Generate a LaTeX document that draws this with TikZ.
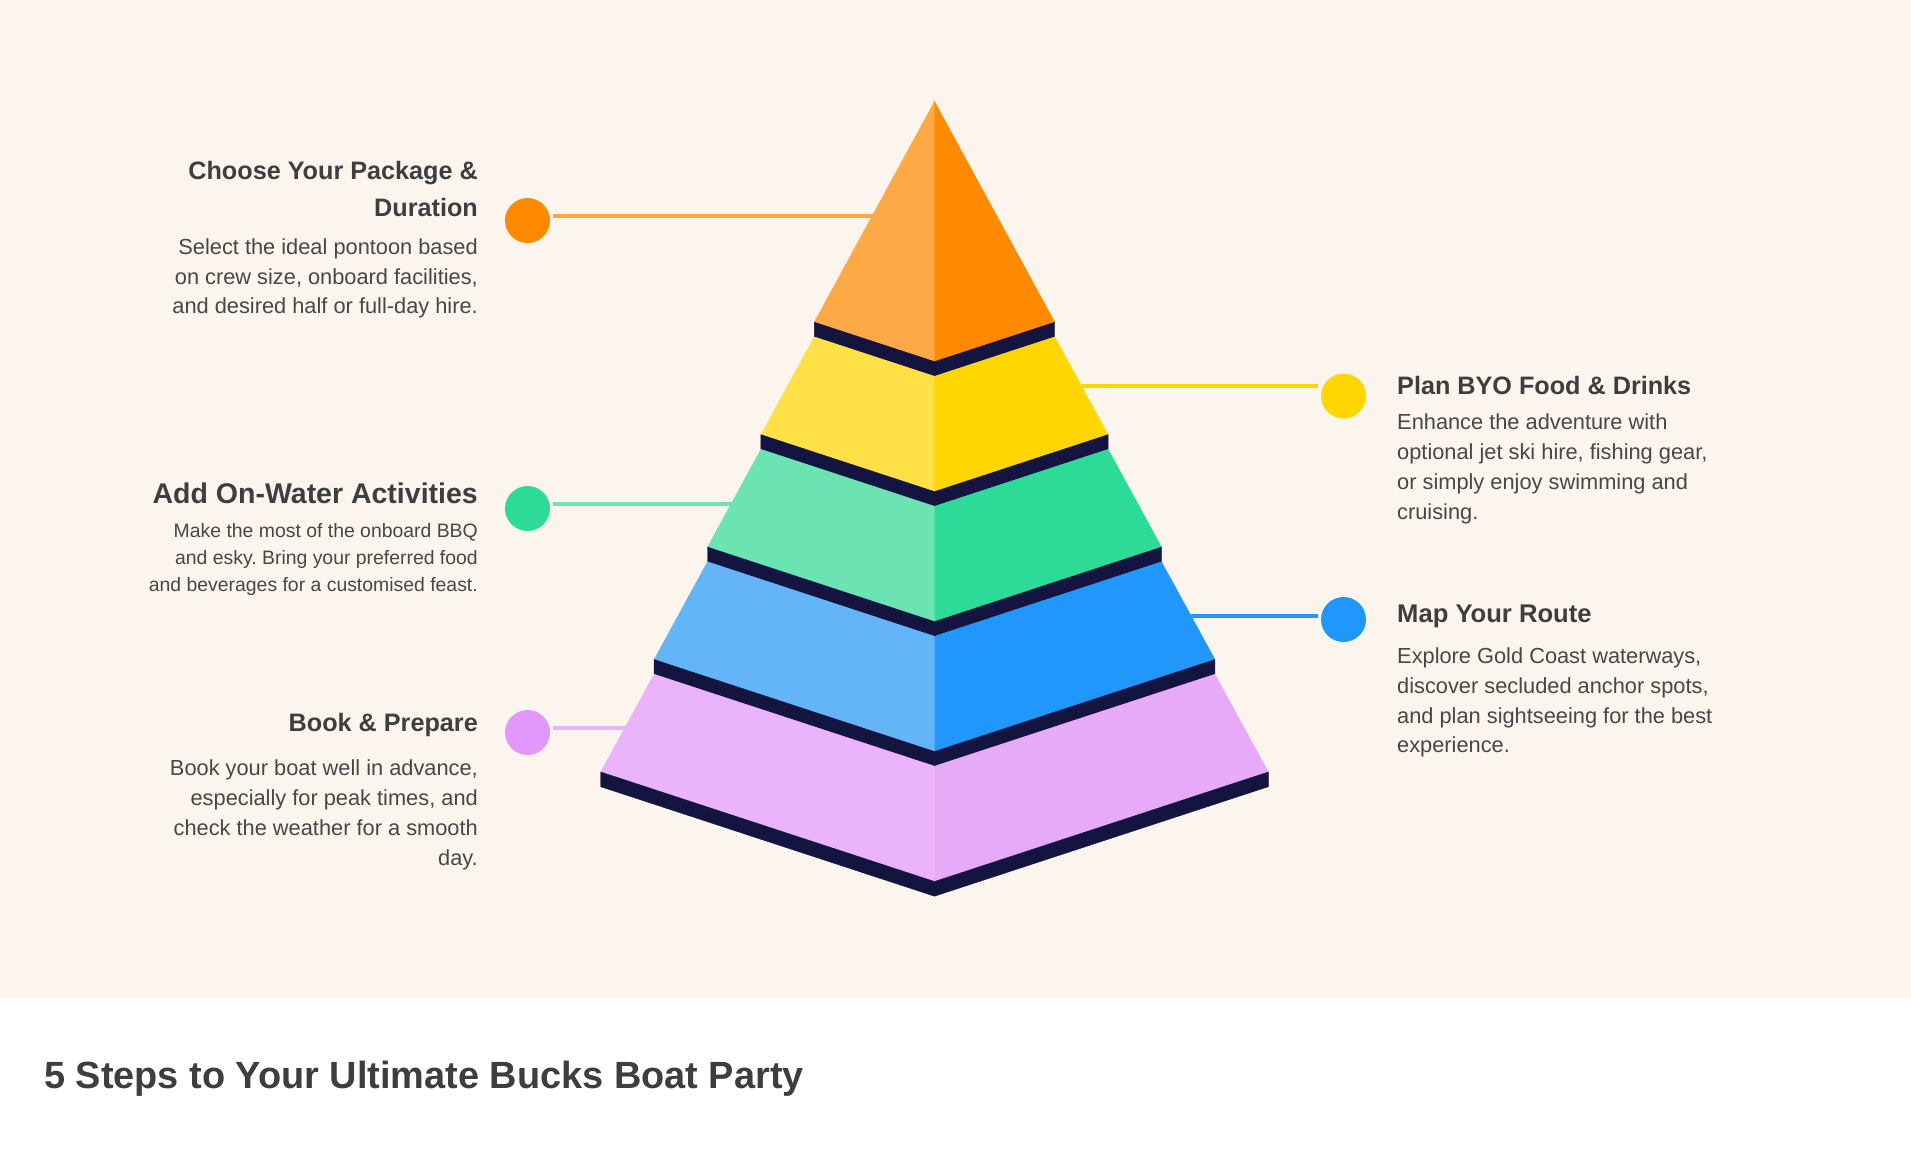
\documentclass[tikz,border=0pt]{standalone}
\usepackage{fontspec}
\setmainfont{Liberation Sans}
\frenchspacing
\definecolor{bgcream}{HTML}{FBF5EE}
\definecolor{titlegray}{HTML}{3E3E3E}
\definecolor{bodygray}{HTML}{474747}
\definecolor{band}{HTML}{13143F}
\definecolor{oraL}{HTML}{FFA946}
\definecolor{oraD}{HTML}{FF8A00}
\definecolor{yelL}{HTML}{FFE047}
\definecolor{yelD}{HTML}{FFD600}
\definecolor{grnL}{HTML}{6BE3B3}
\definecolor{grnD}{HTML}{2DDA98}
\definecolor{bluL}{HTML}{64B5F7}
\definecolor{bluD}{HTML}{2196FB}
\definecolor{pnkL}{HTML}{EBB4FA}
\definecolor{pnkD}{HTML}{E6AAF9}
\definecolor{pnkDot}{HTML}{E197FB}
\begin{document}
\begin{tikzpicture}[x=1pt,y=-1pt,
  ttl/.style={inner sep=0pt, text=titlegray, font=\fontsize{25.2}{30}\selectfont\bfseries},
  body/.style={inner sep=0pt, text=bodygray, font=\fontsize{21.8}{30}\selectfont},
  smallbody/.style={inner sep=0pt, text=bodygray, font=\fontsize{19.4}{27}\selectfont},
  lt/.style={anchor=base east},
  rt/.style={anchor=base west},
  dot/.style={circle, minimum size=45pt, inner sep=0pt},
  link/.style={line width=4pt},
  face/.style={fill=#1, draw=#1, line width=0.4pt, line join=miter}]

\useasboundingbox (0,0) rectangle (1911,1160);
\fill[white] (0,0) rectangle (1911,1160);
\fill[bgcream] (0,0) rectangle (1911,998);

% dots
\node[dot, fill=oraD] (d1) at (527.5,220.5) {};
\node[dot, fill=grnD] (d2) at (527.5,508.5) {};
\node[dot, fill=pnkDot] (d3) at (527.5,732.5) {};
\node[dot, fill=yelD] (d4) at (1343.5,396) {};
\node[dot, fill=bluD] (d5) at (1343.5,619.5) {};

% connector ends on the pyramid
\coordinate (e1) at (879,216);
\coordinate (e2) at (739,503.7);
\coordinate (e3) at (630,727.7);
\coordinate (e4) at (1081,386);
\coordinate (e5) at (1190.5,615.6);

\draw[link, oraL] ([xshift=3pt]d1.east |- e1) -- (e1);
\draw[link, grnL] ([xshift=3pt]d2.east |- e2) -- (e2);
\draw[link, pnkL] ([xshift=3pt]d3.east |- e3) -- (e3);
\draw[link, yelD] ([xshift=-2.5pt]d4.west |- e4) -- (e4);
\draw[link, bluD] ([xshift=-2.5pt]d5.west |- e5) -- (e5);

% pyramid layer 1
\fill[face=oraL] (934.5,101.5) -- (814.3,322.2) -- (934.5,361.6) -- cycle;
\fill[face=oraD] (934.5,101.5) -- (1054.7,322.2) -- (934.5,361.6) -- cycle;
\fill[face=band] (814.3,322.2) -- (814.3,336.9) -- (934.5,376.3) -- (1054.7,336.9) -- (1054.7,322.2) -- (934.5,361.6) -- cycle;
% layer 2
\fill[face=yelL] (934.5,376.3) -- (814.3,336.9) -- (760.9,434.65) -- (934.5,491.6) -- cycle;
\fill[face=yelD] (934.5,376.3) -- (1054.7,336.9) -- (1108.1,434.65) -- (934.5,491.6) -- cycle;
\fill[face=band] (760.9,434.65) -- (760.9,449.35) -- (934.5,506.3) -- (1108.1,449.35) -- (1108.1,434.65) -- (934.5,491.6) -- cycle;
% layer 3
\fill[face=grnL] (934.5,506.3) -- (760.9,449.35) -- (707.5,547.1) -- (934.5,621.6) -- cycle;
\fill[face=grnD] (934.5,506.3) -- (1108.1,449.35) -- (1161.5,547.1) -- (934.5,621.6) -- cycle;
\fill[face=band] (707.5,547.1) -- (707.5,561.8) -- (934.5,636.3) -- (1161.5,561.8) -- (1161.5,547.1) -- (934.5,621.6) -- cycle;
% layer 4
\fill[face=bluL] (934.5,636.3) -- (707.5,561.8) -- (654.1,659.55) -- (934.5,751.5) -- cycle;
\fill[face=bluD] (934.5,636.3) -- (1161.5,561.8) -- (1214.9,659.55) -- (934.5,751.5) -- cycle;
\fill[face=band] (654.1,659.55) -- (654.1,674.25) -- (934.5,766.2) -- (1214.9,674.25) -- (1214.9,659.55) -- (934.5,751.5) -- cycle;
% layer 5
\fill[face=pnkL] (934.5,766.2) -- (654.1,674.25) -- (600.7,772) -- (934.5,881.5) -- cycle;
\fill[face=pnkD] (934.5,766.2) -- (1214.9,674.25) -- (1268.3,772) -- (934.5,881.5) -- cycle;
\fill[face=band] (600.7,772) -- (600.7,786.7) -- (934.5,896.2) -- (1268.3,786.7) -- (1268.3,772) -- (934.5,881.5) -- cycle;

% left texts
\node[ttl, lt] (t1a) at (478,179) {Choose Your Package \&};
\node[ttl, lt] (t1b) at (478,216) {Duration};
\node[body, lt] (b1a) at (478,254) {Select the ideal pontoon based};
\node[body, lt] (b1b) at (478,284) {on crew size, onboard facilities,};
\node[body, lt] (b1c) at (478,313) {and desired half or full-day hire.};

\node[ttl, lt, font=\fontsize{28.5}{32}\selectfont\bfseries] (t2a) at (478,503) {Add On-Water Activities};
\node[smallbody, lt] (b2a) at (478,537) {Make the most of the onboard BBQ};
\node[smallbody, lt] (b2b) at (478,564) {and esky. Bring your preferred food};
\node[smallbody, lt] (b2c) at (478,591) {and beverages for a customised feast.};

\node[ttl, lt] (t3a) at (478,731) {Book \& Prepare};
\node[body, lt] (b3a) at (478,775) {Book your boat well in advance,};
\node[body, lt] (b3b) at (478,805) {especially for peak times, and};
\node[body, lt] (b3c) at (478,835) {check the weather for a smooth};
\node[body, lt] (b3d) at (478,865) {day.};

% right texts
\node[ttl, rt] (t4a) at (1397,394) {Plan BYO Food \& Drinks};
\node[body, rt] (b4a) at (1397,429) {Enhance the adventure with};
\node[body, rt] (b4b) at (1397,459) {optional jet ski hire, fishing gear,};
\node[body, rt] (b4c) at (1397,489) {or simply enjoy swimming and};
\node[body, rt] (b4d) at (1397,519) {cruising.};

\node[ttl, rt, font=\fontsize{25.6}{30}\selectfont\bfseries] (t5a) at (1397,622) {Map Your Route};
\node[body, rt] (b5a) at (1397,663) {Explore Gold Coast waterways,};
\node[body, rt] (b5b) at (1397,693) {discover secluded anchor spots,};
\node[body, rt] (b5c) at (1397,723) {and plan sightseeing for the best};
\node[body, rt] (b5d) at (1397,752) {experience.};

% main title
\node[ttl, anchor=base west, font=\fontsize{37.9}{44}\selectfont\bfseries] (title) at (44,1088.5) {5 Steps to Your Ultimate Bucks Boat Party};
\end{tikzpicture}
\end{document}
